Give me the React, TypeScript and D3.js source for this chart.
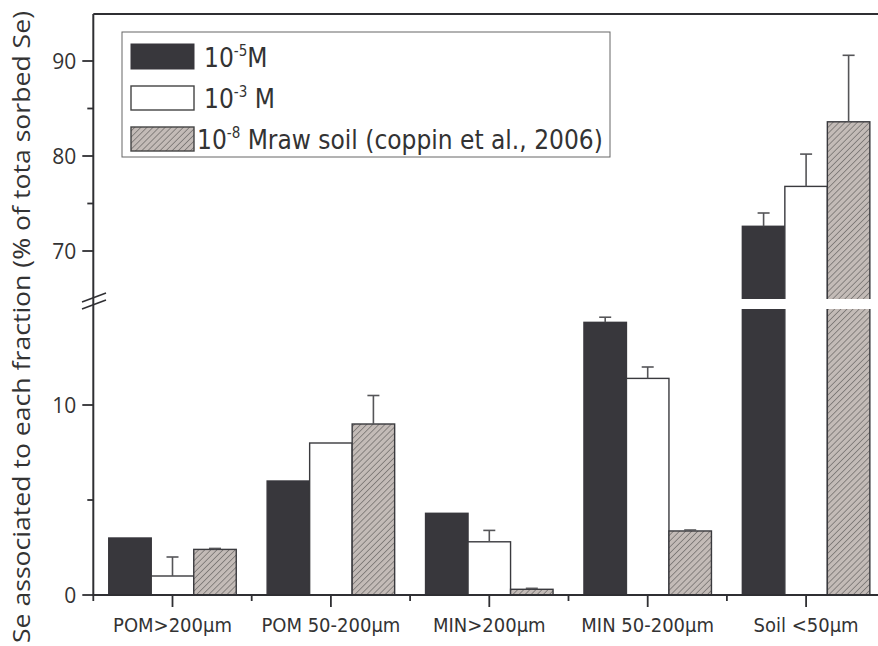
import React from 'react';
import * as d3 from 'd3';

const categories = ['POM>200μm', 'POM 50-200μm', 'MIN>200μm', 'MIN 50-200μm', 'Soil <50μm'];
const seriesNames = ['s5', 's3', 's8'];
const values5 = [3.0, 6.0, 4.3, 14.35, 72.6];
const errors5 = [0, 0, 0, 0.27, 1.4];
const values3 = [1.0, 8.0, 2.8, 11.4, 76.8];
const errors3 = [1.0, 0, 0.6, 0.6, 3.4];
const values8 = [2.4, 9.0, 0.3, 3.37, 83.6];
const errors8 = [0.05, 1.5, 0.05, 0.05, 7.0];
const lowerTicks = [0, 10];
const lowerMinor = [5];
const upperTicks = [70, 80, 90];
const upperMinor = [75, 85];

const W = 878;
const H = 646;
const X0 = 93.3;
const Y0 = 595;
const TOP = 14;
const DARK = '#38373c';
const AXIS = '#2f2f33';
const HATCH_FILL = '#c3bbb7';

export default function App() {
  const x = d3.scaleBand<string>().domain(categories).range([X0, X0 + 158.4 * 5]).paddingInner(0.195).paddingOuter(0.0975);
  const xs = d3.scaleBand<string>().domain(seriesNames).range([0, x.bandwidth()]);
  const lower = d3.scaleLinear().domain([0, 15]).range([Y0, 310]);
  const upper = d3.scaleLinear().domain([65, 95]).range([298.5, 13.5]);
  const y = (v: number) => (v <= 15 ? lower(v) : upper(v));

  const series = [
    { key: 's5', vals: values5, errs: errors5, fill: DARK, stroke: DARK },
    { key: 's3', vals: values3, errs: errors3, fill: '#ffffff', stroke: '#3a3a3e' },
    { key: 's8', vals: values8, errs: errors8, fill: 'url(#hatch)', stroke: '#3a3a3e' },
  ];

  const font = "'Open Sans', 'DejaVu Sans', sans-serif";
  const cond = "'DejaVu Sans Condensed', sans-serif";
  const step = x.step();
  const minorX = d3.range(0, 6).map((i) => X0 + i * step);

  return (
    <svg width={W} height={H} style={{ position: 'absolute', left: 0, top: 0, background: '#fff' }}>
      <defs>
        <pattern id="hatch" patternUnits="userSpaceOnUse" width="4.3" height="4.3" patternTransform="rotate(45)">
          <rect width="4.3" height="4.3" fill={HATCH_FILL} />
          <line x1="0" y1="0" x2="0" y2="4.3" stroke="#4a4848" strokeWidth="1" />
        </pattern>
      </defs>
      <rect width={W} height={H} fill="#fff" />

      {series.map((s) =>
        categories.map((c, i) => {
          const bx = (x(c) as number) + (xs(s.key) as number);
          const bw = xs.bandwidth();
          const top = y(s.vals[i]);
          return (
            <rect key={s.key + c} x={bx} y={top} width={bw} height={Y0 - top} fill={s.fill} stroke={s.stroke} strokeWidth={1.4} />
          );
        })
      )}
      {series.map((s) =>
        categories.map((c, i) => {
          if (!s.errs[i]) return null;
          const cx = (x(c) as number) + (xs(s.key) as number) + xs.bandwidth() / 2;
          const top = y(s.vals[i]);
          const et = y(s.vals[i] + s.errs[i]);
          return (
            <g key={'e' + s.key + c} stroke="#555558" strokeWidth={1.6}>
              <line x1={cx} x2={cx} y1={top} y2={et} />
              <line x1={cx - 6} x2={cx + 6} y1={et} y2={et} />
            </g>
          );
        })
      )}
      <rect x={X0 + 2} y={299} width={W} height={10} fill="#fff" />

      <line x1={X0} x2={W} y1={TOP} y2={TOP} stroke={AXIS} strokeWidth={2} />
      <line x1={X0} x2={X0} y1={TOP} y2={Y0} stroke={AXIS} strokeWidth={2} />
      <line x1={X0 - 1} x2={W} y1={Y0} y2={Y0} stroke={AXIS} strokeWidth={2} />
      <line x1={82} x2={106} y1={302} y2={293} stroke={AXIS} strokeWidth={1.5} />
      <line x1={82} x2={106} y1={309} y2={300} stroke={AXIS} strokeWidth={1.5} />

      {lowerTicks.map((t) => (
        <g key={'lt' + t}>
          <line x1={X0 - 11} x2={X0} y1={lower(t)} y2={lower(t)} stroke={AXIS} strokeWidth={1.8} />
          <text x={X0 - 17} y={lower(t)} dy="0.36em" textAnchor="end" fontFamily={font} fontSize={21} fill="#333">{t}</text>
        </g>
      ))}
      {lowerMinor.map((t) => (
        <line key={'lm' + t} x1={X0 - 6} x2={X0} y1={lower(t)} y2={lower(t)} stroke={AXIS} strokeWidth={1.8} />
      ))}
      {upperTicks.map((t) => (
        <g key={'ut' + t}>
          <line x1={X0 - 11} x2={X0} y1={upper(t)} y2={upper(t)} stroke={AXIS} strokeWidth={1.8} />
          <text x={X0 - 17} y={upper(t)} dy="0.36em" textAnchor="end" fontFamily={font} fontSize={21} fill="#333">{t}</text>
        </g>
      ))}
      {upperMinor.map((t) => (
        <line key={'um' + t} x1={X0 - 6} x2={X0} y1={upper(t)} y2={upper(t)} stroke={AXIS} strokeWidth={1.8} />
      ))}

      {minorX.map((mx, i) => (
        <line key={'xm' + i} x1={mx} x2={mx} y1={Y0} y2={Y0 + 6} stroke={AXIS} strokeWidth={1.8} />
      ))}
      {categories.map((c) => {
        const cx = (x(c) as number) + x.bandwidth() / 2;
        return (
          <g key={'xt' + c}>
            <line x1={cx} x2={cx} y1={Y0} y2={Y0 + 12} stroke={AXIS} strokeWidth={1.8} />
            <text x={cx} y={632} textAnchor="middle" fontFamily={cond} fontSize={20} fill="#333">{c}</text>
          </g>
        );
      })}

      <text transform={`translate(30, 327) rotate(-90)`} textAnchor="middle" fontFamily={font} fontSize={24} fill="#333" textLength={632} lengthAdjust="spacingAndGlyphs">
        Se associated to each fraction (% of tota sorbed Se)
      </text>

      <rect x={122} y={32} width={488} height={125} fill="#fff" stroke="#666" strokeWidth={1} />
      <rect x={131} y={44} width={63} height={25} fill={DARK} stroke={DARK} strokeWidth={1} />
      <rect x={131} y={86} width={63} height={24} fill="#fff" stroke="#444" strokeWidth={1.4} />
      <rect x={131} y={127} width={63} height={24} fill="url(#hatch)" stroke="#444" strokeWidth={1.4} />
      <text x={204} y={67} fontFamily={cond} fontSize={26} fill="#333">
        10<tspan dy={-11} fontSize={15}>-5</tspan><tspan dy={11}>M</tspan>
      </text>
      <text x={204} y={108} fontFamily={cond} fontSize={26} fill="#333">
        10<tspan dy={-11} fontSize={15}>-3</tspan><tspan dy={11}> M</tspan>
      </text>
      <text x={197} y={149} fontFamily={cond} fontSize={26} fill="#333">
        10<tspan dy={-11} fontSize={15}>-8</tspan><tspan dy={11}> Mraw soil (coppin et al., 2006)</tspan>
      </text>
    </svg>
  );
}
